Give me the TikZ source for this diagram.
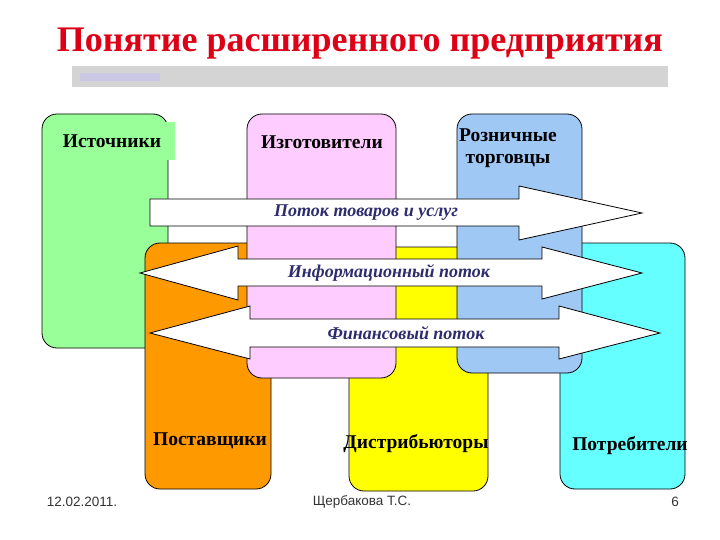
\documentclass[tikz,border=0pt]{standalone}
\usepackage{fontspec}
\setmainfont{Liberation Serif}
\newfontfamily\footfont{Liberation Sans}
\definecolor{titlered}{RGB}{222,0,22}
\definecolor{bargrey}{RGB}{212,212,212}
\definecolor{barmark}{RGB}{200,200,228}
\definecolor{srcgreen}{RGB}{153,255,153}
\definecolor{mfgpink}{RGB}{255,204,255}
\definecolor{retblue}{RGB}{160,200,245}
\definecolor{suporange}{RGB}{255,153,0}
\definecolor{disyellow}{RGB}{255,255,0}
\definecolor{concyan}{RGB}{102,255,255}
\definecolor{flowtext}{RGB}{45,45,110}
\begin{document}
\begin{tikzpicture}[x=1pt,y=-1pt,
    box/.style={draw=black, line width=0.8pt, rounded corners=15pt},
    lbl/.style={font=\bfseries\fontsize{19.5}{22}\selectfont, align=center, inner sep=0pt},
    flow/.style={draw=black, line width=0.8pt, fill=white, line join=miter},
    flowlbl/.style={font=\bfseries\itshape\fontsize{18}{20}\selectfont, text=flowtext, inner sep=0pt},
    foot/.style={font=\footfont\fontsize{13.5}{15}\selectfont, text=black!80, inner sep=0pt}]
  \useasboundingbox (0,0) rectangle (720,540);
  \fill[white] (0,0) rectangle (720,540);

  % title and bar
  \node[font=\bfseries\fontsize{36}{40}\selectfont, text=titlered] (title) at (360,44) {Понятие расширенного предприятия};
  \fill[bargrey] (72,66) rectangle (668,87);
  \fill[barmark] (80,73) rectangle (160,81);

  % back row
  \draw[box, fill=srcgreen] (42,114) rectangle (168,348);
  \node[lbl, fill=srcgreen, minimum width=113pt, minimum height=38pt] (src) at (118,141) {Источники\hspace*{12pt}};
  \draw[box, fill=suporange] (145,243) rectangle (271,489);
  \draw[box, fill=disyellow] (349,247) rectangle (488,491);
  \draw[box, fill=concyan] (560,243) rectangle (685,489);

  % front row
  \draw[box, fill=mfgpink] (247,114) rectangle (396,378);
  \draw[box, fill=retblue] (457,114) rectangle (582,373);

  \node[lbl] (mfg) at (322,142) {Изготовители};
  \node[lbl] (ret) at (508,148) {Розничные\\торговцы};
  \node[lbl] (sup) at (210,441) {Поставщики};
  \node[lbl] (dis) at (416,444) {Дистрибьюторы};
  \node[lbl] (con) at (630,446) {Потребители};

  % goods flow
  \coordinate (g1) at (150,199);
  \coordinate (g2) at (519,199);
  \coordinate (g3) at (519,186);
  \coordinate (g4) at (642,213);
  \coordinate (g5) at (519,240);
  \coordinate (g6) at (519,226);
  \coordinate (g7) at (150,226);
  \draw[flow] (g1) -- (g2) -- (g3) -- (g4) -- (g5) -- (g6) -- (g7) -- cycle;
  \node[flowlbl] (goods) at (366,213) {Поток товаров и услуг};

  % information flow
  \draw[flow] (140,273) -- (238,246) -- (238,259) -- (542,259) -- (542,247) -- (642,273)
    -- (542,299) -- (542,286) -- (238,286) -- (238,300) -- cycle;
  \node[flowlbl] (info) at (389,273) {Информационный поток};

  % financial flow
  \draw[flow] (150,333) -- (250,306) -- (250,319) -- (559,319) -- (559,306) -- (660,333)
    -- (559,359) -- (559,347) -- (250,347) -- (250,359) -- cycle;
  \node[flowlbl] (fin) at (406,333) {Финансовый поток};

  % footer
  \node[foot] (date) at (82,502) {12.02.2011.};
  \node[foot] (author) at (362,502) {Щербакова Т.С.};
  \node[foot] (page) at (675,502) {6};
\end{tikzpicture}
\end{document}
